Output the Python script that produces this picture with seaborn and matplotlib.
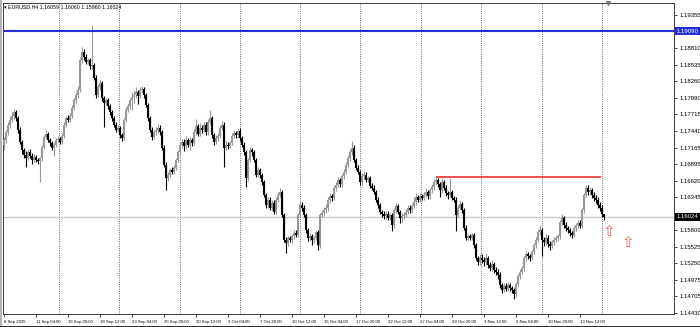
import numpy as np
import matplotlib
matplotlib.use("Agg")
import matplotlib.pyplot as plt
import matplotlib.transforms as mtrans
import seaborn as sns

# ---------------- data ----------------
symbol_info = "EURUSD,H4"
last_ohlc = ["1.16059", "1.16060", "1.15960", "1.16024"]
first_open = 1.1720

closes = [
    1.1729, 1.1742, 1.1754, 1.1762, 1.1769, 1.1775, 1.1765, 1.1746, 1.1726, 1.1712,
    1.1704, 1.1699, 1.1709, 1.1703, 1.1696, 1.1701, 1.1696, 1.1694, 1.1699, 1.1717,
    1.1734, 1.1739, 1.1729, 1.1724, 1.1716, 1.1721, 1.1729, 1.1731, 1.1726, 1.1736,
    1.1754, 1.1765, 1.1762, 1.1769, 1.1782, 1.1795, 1.1803, 1.1812, 1.1861, 1.1874,
    1.1866, 1.1858, 1.1861, 1.1851, 1.1853, 1.1832, 1.1803, 1.1817, 1.1823, 1.1798,
    1.1790, 1.1795, 1.1785, 1.1775, 1.1765, 1.1754, 1.1746, 1.1749, 1.1737, 1.1732,
    1.1762, 1.1779, 1.1785, 1.1795, 1.1800, 1.1803, 1.1808, 1.1802, 1.1812, 1.1813,
    1.1803, 1.1787, 1.1765, 1.1746, 1.1734, 1.1742, 1.1746, 1.1749, 1.1742, 1.1716,
    1.1688, 1.1666, 1.1671, 1.1679, 1.1676, 1.1683, 1.1696, 1.1709, 1.1721, 1.1726,
    1.1719, 1.1729, 1.1721, 1.1729, 1.1724, 1.1742, 1.1752, 1.1739, 1.1749, 1.1746,
    1.1754, 1.1742, 1.1759, 1.1765, 1.1737, 1.1726, 1.1732, 1.1736, 1.1749, 1.1754,
    1.1716, 1.1721, 1.1719, 1.1724, 1.1736, 1.1740, 1.1737, 1.1744, 1.1732, 1.1721,
    1.1709, 1.1666, 1.1696, 1.1712, 1.1709, 1.1696, 1.1671, 1.1679, 1.1671, 1.1659,
    1.1638, 1.1621, 1.1630, 1.1617, 1.1625, 1.1610, 1.1630, 1.1638, 1.1643, 1.1605,
    1.1564, 1.1559, 1.1567, 1.1564, 1.1570, 1.1575, 1.1572, 1.1605, 1.1622, 1.1617,
    1.1605, 1.1580, 1.1567, 1.1570, 1.1564, 1.1567, 1.1577, 1.1555, 1.1605, 1.1608,
    1.1613, 1.1617, 1.1630, 1.1636, 1.1633, 1.1650, 1.1655, 1.1663, 1.1656, 1.1669,
    1.1676, 1.1688, 1.1699, 1.1709, 1.1716, 1.1696, 1.1683, 1.1676, 1.1659, 1.1669,
    1.1671, 1.1663, 1.1666, 1.1653, 1.1650, 1.1643, 1.1630, 1.1621, 1.1610, 1.1607,
    1.1603, 1.1607, 1.1600, 1.1605, 1.1588, 1.1613, 1.1620, 1.1610, 1.1600, 1.1603,
    1.1605, 1.1610, 1.1617, 1.1613, 1.1620, 1.1626, 1.1634, 1.1630, 1.1636, 1.1633,
    1.1638, 1.1643, 1.1636, 1.1646, 1.1651, 1.1659, 1.1663, 1.1656, 1.1646, 1.1659,
    1.1650, 1.1641, 1.1638, 1.1643, 1.1633, 1.1630, 1.1605, 1.1617, 1.1623, 1.1613,
    1.1584, 1.1567, 1.1570, 1.1567, 1.1572, 1.1555, 1.1534, 1.1527, 1.1534, 1.1530,
    1.1527, 1.1534, 1.1522, 1.1517, 1.1524, 1.1514, 1.1511, 1.1506, 1.1489, 1.1481,
    1.1488, 1.1483, 1.1489, 1.1484, 1.1481, 1.1474, 1.1491, 1.1504, 1.1511, 1.1517,
    1.1534, 1.1540, 1.1537, 1.1534, 1.1544, 1.1555, 1.1564, 1.1577, 1.1580, 1.1564,
    1.1560, 1.1567, 1.1557, 1.1554, 1.1560, 1.1564, 1.1567, 1.1570, 1.1593, 1.1600,
    1.1588, 1.1583, 1.1580, 1.1575, 1.1572, 1.1583, 1.1588, 1.1592, 1.1587, 1.1613,
    1.1638, 1.1650, 1.1643, 1.1646, 1.1638, 1.1633, 1.1630, 1.1621, 1.1617, 1.1606,
    1.16024,
]

highs = [
    1.1734, 1.1746, 1.1758, 1.1768, 1.1775, 1.1781, 1.1779, 1.1768, 1.1750, 1.1729,
    1.1716, 1.1710, 1.1713, 1.1714, 1.1707, 1.1706, 1.1705, 1.1700, 1.1701, 1.1721,
    1.1738, 1.1745, 1.1742, 1.1733, 1.1727, 1.1725, 1.1733, 1.1736, 1.1734, 1.1740,
    1.1758, 1.1769, 1.1770, 1.1773, 1.1786, 1.1799, 1.1808, 1.1818, 1.1866, 1.1883,
    1.1879, 1.1871, 1.1865, 1.1864, 1.1919, 1.1857, 1.1836, 1.1821, 1.1828, 1.1827,
    1.1802, 1.1799, 1.1798, 1.1789, 1.1779, 1.1769, 1.1758, 1.1753, 1.1752, 1.1741,
    1.1766, 1.1783, 1.1790, 1.1799, 1.1808, 1.1811, 1.1816, 1.1812, 1.1817, 1.1819,
    1.1817, 1.1806, 1.1790, 1.1769, 1.1750, 1.1746, 1.1750, 1.1755, 1.1754, 1.1745,
    1.1720, 1.1692, 1.1676, 1.1683, 1.1684, 1.1687, 1.1700, 1.1713, 1.1725, 1.1731,
    1.1731, 1.1735, 1.1733, 1.1734, 1.1733, 1.1747, 1.1763, 1.1756, 1.1757, 1.1753,
    1.1758, 1.1759, 1.1763, 1.1778, 1.1769, 1.1741, 1.1737, 1.1740, 1.1753, 1.1760,
    1.1758, 1.1727, 1.1726, 1.1728, 1.1740, 1.1746, 1.1744, 1.1749, 1.1748, 1.1736,
    1.1725, 1.1713, 1.1700, 1.1717, 1.1716, 1.1713, 1.1700, 1.1685, 1.1683, 1.1675,
    1.1663, 1.1642, 1.1634, 1.1634, 1.1630, 1.1629, 1.1634, 1.1643, 1.1650, 1.1647,
    1.1609, 1.1568, 1.1571, 1.1571, 1.1574, 1.1580, 1.1580, 1.1609, 1.1628, 1.1626,
    1.1622, 1.1609, 1.1584, 1.1575, 1.1574, 1.1571, 1.1581, 1.1581, 1.1609, 1.1614,
    1.1618, 1.1623, 1.1634, 1.1641, 1.1640, 1.1655, 1.1660, 1.1668, 1.1666, 1.1673,
    1.1681, 1.1693, 1.1705, 1.1714, 1.1728, 1.1720, 1.1700, 1.1688, 1.1680, 1.1674,
    1.1677, 1.1676, 1.1670, 1.1670, 1.1658, 1.1654, 1.1647, 1.1634, 1.1625, 1.1614,
    1.1611, 1.1612, 1.1611, 1.1609, 1.1609, 1.1617, 1.1625, 1.1624, 1.1614, 1.1608,
    1.1610, 1.1615, 1.1621, 1.1622, 1.1625, 1.1634, 1.1641, 1.1638, 1.1641, 1.1640,
    1.1643, 1.1649, 1.1647, 1.1650, 1.1656, 1.1664, 1.1667, 1.1666, 1.1660, 1.1664,
    1.1663, 1.1654, 1.1645, 1.1666, 1.1647, 1.1637, 1.1634, 1.1621, 1.1628, 1.1627,
    1.1617, 1.1588, 1.1574, 1.1574, 1.1576, 1.1576, 1.1559, 1.1538, 1.1540, 1.1540,
    1.1535, 1.1543, 1.1538, 1.1527, 1.1530, 1.1528, 1.1519, 1.1516, 1.1510, 1.1493,
    1.1493, 1.1492, 1.1494, 1.1493, 1.1488, 1.1485, 1.1495, 1.1508, 1.1516, 1.1521,
    1.1538, 1.1545, 1.1544, 1.1541, 1.1548, 1.1559, 1.1568, 1.1582, 1.1588, 1.1584,
    1.1569, 1.1573, 1.1572, 1.1562, 1.1564, 1.1568, 1.1572, 1.1574, 1.1597, 1.1607,
    1.1604, 1.1593, 1.1587, 1.1584, 1.1579, 1.1587, 1.1592, 1.1597, 1.1596, 1.1617,
    1.1642, 1.1655, 1.1654, 1.1651, 1.1650, 1.1643, 1.1638, 1.1634, 1.1626, 1.1622,
    1.16060,
]

lows = [
    1.1712, 1.1724, 1.1738, 1.1749, 1.1758, 1.1764, 1.1761, 1.1741, 1.1722, 1.1706,
    1.1699, 1.1684, 1.1696, 1.1700, 1.1690, 1.1692, 1.1693, 1.1689, 1.1660, 1.1695,
    1.1714, 1.1730, 1.1725, 1.1719, 1.1712, 1.1702, 1.1718, 1.1725, 1.1722, 1.1722,
    1.1733, 1.1750, 1.1758, 1.1759, 1.1765, 1.1779, 1.1790, 1.1799, 1.1808, 1.1857,
    1.1862, 1.1854, 1.1855, 1.1847, 1.1846, 1.1828, 1.1799, 1.1800, 1.1812, 1.1794,
    1.1750, 1.1786, 1.1781, 1.1771, 1.1761, 1.1750, 1.1742, 1.1742, 1.1733, 1.1728,
    1.1729, 1.1758, 1.1775, 1.1781, 1.1778, 1.1790, 1.1798, 1.1788, 1.1798, 1.1806,
    1.1799, 1.1783, 1.1761, 1.1742, 1.1729, 1.1730, 1.1738, 1.1741, 1.1738, 1.1712,
    1.1684, 1.1646, 1.1662, 1.1667, 1.1672, 1.1672, 1.1679, 1.1692, 1.1705, 1.1716,
    1.1711, 1.1714, 1.1717, 1.1712, 1.1719, 1.1720, 1.1738, 1.1735, 1.1735, 1.1741,
    1.1742, 1.1738, 1.1738, 1.1755, 1.1733, 1.1721, 1.1722, 1.1728, 1.1732, 1.1745,
    1.1684, 1.1712, 1.1714, 1.1715, 1.1720, 1.1732, 1.1733, 1.1733, 1.1728, 1.1717,
    1.1705, 1.1651, 1.1662, 1.1692, 1.1703, 1.1692, 1.1667, 1.1667, 1.1666, 1.1655,
    1.1634, 1.1617, 1.1616, 1.1613, 1.1613, 1.1606, 1.1607, 1.1626, 1.1634, 1.1601,
    1.1560, 1.1543, 1.1554, 1.1560, 1.1559, 1.1566, 1.1568, 1.1568, 1.1601, 1.1612,
    1.1601, 1.1576, 1.1562, 1.1562, 1.1556, 1.1558, 1.1563, 1.1547, 1.1551, 1.1601,
    1.1604, 1.1609, 1.1612, 1.1625, 1.1628, 1.1629, 1.1644, 1.1651, 1.1652, 1.1652,
    1.1665, 1.1672, 1.1684, 1.1695, 1.1704, 1.1692, 1.1679, 1.1672, 1.1655, 1.1655,
    1.1664, 1.1659, 1.1659, 1.1649, 1.1646, 1.1639, 1.1626, 1.1617, 1.1606, 1.1601,
    1.1599, 1.1598, 1.1596, 1.1596, 1.1578, 1.1584, 1.1609, 1.1606, 1.1592, 1.1594,
    1.1598, 1.1601, 1.1606, 1.1609, 1.1609, 1.1616, 1.1622, 1.1626, 1.1626, 1.1629,
    1.1629, 1.1634, 1.1632, 1.1632, 1.1642, 1.1647, 1.1655, 1.1652, 1.1634, 1.1642,
    1.1646, 1.1637, 1.1632, 1.1634, 1.1629, 1.1626, 1.1578, 1.1601, 1.1613, 1.1609,
    1.1580, 1.1563, 1.1563, 1.1563, 1.1563, 1.1551, 1.1530, 1.1522, 1.1522, 1.1525,
    1.1520, 1.1523, 1.1518, 1.1512, 1.1513, 1.1509, 1.1506, 1.1500, 1.1484, 1.1476,
    1.1477, 1.1479, 1.1479, 1.1480, 1.1476, 1.1466, 1.1470, 1.1487, 1.1500, 1.1507,
    1.1513, 1.1529, 1.1532, 1.1529, 1.1530, 1.1540, 1.1551, 1.1560, 1.1572, 1.1538,
    1.1553, 1.1556, 1.1552, 1.1547, 1.1550, 1.1555, 1.1560, 1.1562, 1.1566, 1.1589,
    1.1584, 1.1579, 1.1575, 1.1570, 1.1567, 1.1568, 1.1579, 1.1584, 1.1583, 1.1583,
    1.1609, 1.1634, 1.1638, 1.1638, 1.1633, 1.1628, 1.1625, 1.1616, 1.1612, 1.1602,
    1.15960,
]

tick_bars = [0, 16, 32, 48, 64, 80, 96, 112, 128, 144, 160, 176, 192, 208, 224, 240, 256, 272, 288]
tick_labels = ["8 Sep 2025", "11 Sep 04:00", "15 Sep 20:00", "18 Sep 12:00", "23 Sep 04:00",
               "25 Sep 20:00", "30 Sep 12:00", "3 Oct 04:00", "7 Oct 20:00", "10 Oct 12:00",
               "15 Oct 04:00", "17 Oct 20:00", "22 Oct 12:00", "27 Oct 04:00", "29 Oct 20:00",
               "3 Nov 12:00", "6 Nov 04:00", "10 Nov 20:00", "13 Nov 12:00"]
y_ticks = [1.19355, 1.18810, 1.18535, 1.18260, 1.17990, 1.17715, 1.17440, 1.17165,
           1.16895, 1.16620, 1.16345, 1.15800, 1.15525, 1.15250, 1.14975, 1.14705, 1.14430]
y_tick_labels = ["1.19355", "1.18810", "1.18535", "1.18260", "1.17990", "1.17715", "1.17440",
                 "1.17165", "1.16895", "1.16620", "1.16345", "1.15800", "1.15525", "1.15250",
                 "1.14975", "1.14705", "1.14430"]

level_blue = 1.19090
level_blue_label = "1.19090"
level_red = 1.1668
red_start_bar = 216
red_end_bar = 298.5
current_price = 1.16024
current_label = "1.16024"
arrow_bars = [302.5, 312.0]
arrow_prices = [1.1577, 1.1560]
grid_bars = [27.5, 57.5, 88, 118, 148, 178, 208.5, 238.5, 269, 299]
shift_bar = 302

# ---------------- style ----------------
sns.set_theme(style="white")
plt.rcParams["font.family"] = ["Liberation Sans", "DejaVu Sans"]

W, H = 700, 327
fig = plt.figure(figsize=(7.0, 3.27), dpi=100)
fig.patch.set_facecolor("white")
ax = fig.add_axes([3 / W, 13 / H, 671 / W, 311 / H])
ax.set_facecolor("white")

n = min(len(closes), len(highs), len(lows))
c = np.array(closes[:n])
o = np.array([first_open] + closes[:n - 1])
o[-1] = float(last_ohlc[0])
h = np.maximum(np.array(highs[:n]), np.maximum(o, c))
l = np.minimum(np.array(lows[:n]), np.minimum(o, c))
x = np.arange(n)
up = c >= o

# grid lines (vertical dotted)
for g in grid_bars:
    ax.axvline(g, color="#555555", lw=0.65, ls=(0, (1, 1.5)), zorder=1)

# current price line
ax.axhline(current_price, color="#c5ccd3", lw=1.0, zorder=1.5)

# candles
for mask, col in [(up, "#999999"), (~up, "#000000")]:
    ax.vlines(x[mask], l[mask], h[mask], color=col, lw=0.8, zorder=3)
    ax.vlines(x[mask], np.minimum(o, c)[mask], np.maximum(o, c)[mask], color=col, lw=1.5, zorder=3)

# levels
ax.axhline(level_blue, color="#2430d6", lw=1.5, zorder=4)
ax.hlines(level_red, red_start_bar, red_end_bar, color="#ee4040", lw=1.3, zorder=4)

# arrows
for xb, yp in zip(arrow_bars, arrow_prices):
    ax.text(xb, yp, "\u21e7", color="#f06060", fontsize=11, ha="center", va="center",
            family=["DejaVu Sans"], zorder=5)

ax.set_xlim(-0.3, -0.3 + 671 / 2)
ax.set_ylim(1.14414, 1.19554)

# axes / ticks
ax.yaxis.tick_right()
ax.set_yticks(y_ticks)
ax.set_yticklabels(y_tick_labels)
ax.tick_params(axis="y", which="both", right=True, left=False, length=2.5, width=0.5,
               pad=1.5, labelsize=4.3, colors="black", direction="out")
ax.set_xticks(tick_bars)
ax.set_xticklabels(tick_labels, ha="left")
ax.tick_params(axis="x", bottom=True, length=2.5, width=0.5, pad=1.5, labelsize=3.1,
               colors="black", direction="out")
offset = mtrans.ScaledTranslation(0.5 / 72, 0, fig.dpi_scale_trans)
for lbl in ax.get_xticklabels():
    lbl.set_transform(lbl.get_transform() + offset)

for sp in ax.spines.values():
    sp.set_color("#202020")
    sp.set_linewidth(0.6)
    sp.set_visible(True)

# price boxes on right axis
trans = mtrans.blended_transform_factory(ax.transAxes, ax.transData)
ax.text(1.004, level_blue, level_blue_label, transform=trans, ha="left", va="center",
        fontsize=4.3, color="white", clip_on=False, zorder=10,
        bbox=dict(boxstyle="square,pad=0.25", facecolor="#2430d6", edgecolor="none"))
ax.text(1.004, current_price, current_label, transform=trans, ha="left", va="center",
        fontsize=4.3, color="white", clip_on=False, zorder=10,
        bbox=dict(boxstyle="square,pad=0.25", facecolor="#000000", edgecolor="none"))

# chart shift marker
ax.scatter([shift_bar], [1.19554], marker="v", s=6, color="#707070", clip_on=False, zorder=6)

# header text
fig.text(4 / W, 1 - 6.5 / H, "\u25be " + symbol_info + " " + " ".join(last_ohlc),
         fontsize=3.8, color="black", ha="left", va="center")

# window frame details
fig.patches.append(plt.Rectangle((0, 0), 2 / W, 1, transform=fig.transFigure,
                                 facecolor="#b4b4b4", edgecolor="none"))
fig.patches.append(plt.Rectangle((0, 0), 1, 1.5 / H, transform=fig.transFigure,
                                 facecolor="#303030", edgecolor="none"))

fig.savefig("out.png", dpi=100, facecolor="white")
